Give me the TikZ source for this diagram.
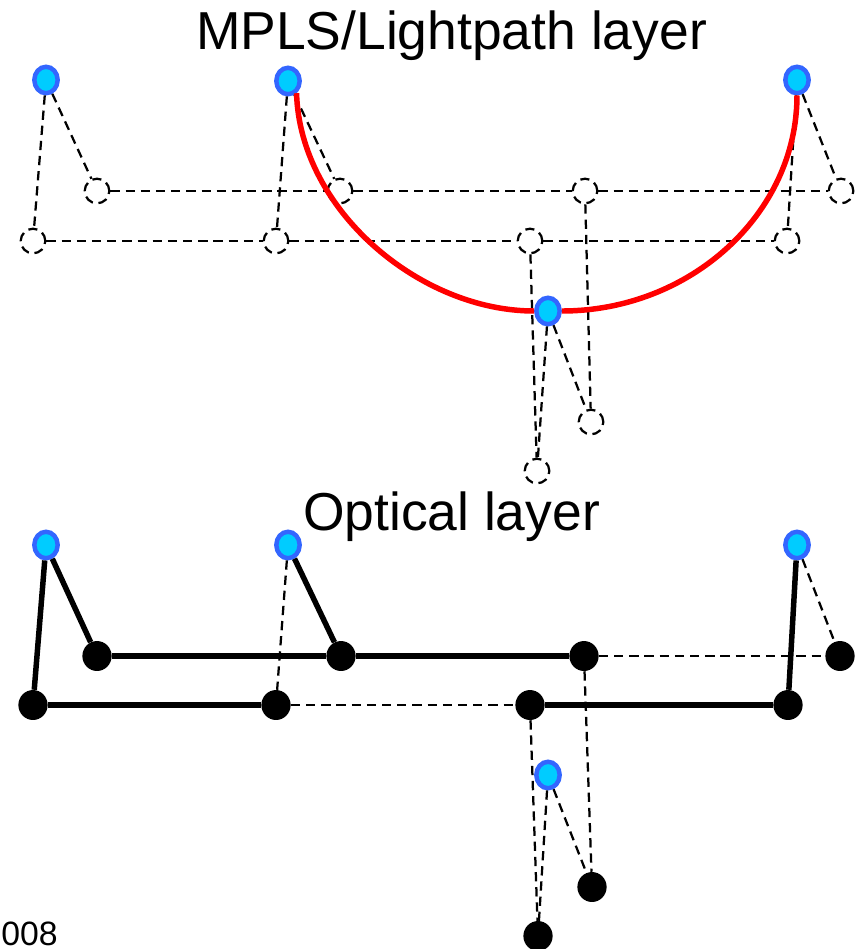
\documentclass[tikz,border=0pt]{standalone}
\usepackage{fontspec}
\setmainfont{Liberation Sans}
\usepackage{tikz}
\usetikzlibrary{positioning}
\usetikzlibrary{shapes}
\usepackage{xcolor}
\definecolor{nodecyan}{HTML}{00CCFF}
\definecolor{nodeblue}{HTML}{3366FF}

\begin{document}
\begin{tikzpicture}[x=0.025cm,y=-0.025cm,
  router/.style={ellipse,draw=nodeblue,fill=nodecyan,line width=3.2pt,inner sep=0pt,minimum width=16.6pt,minimum height=18.8pt},
  vport/.style={ellipse,draw,line width=1.6pt,dash pattern=on 6.5pt off 4pt,inner sep=0pt,minimum width=17.5pt,minimum height=17.5pt},
  oport/.style={ellipse,fill=black,inner sep=0pt,minimum width=20.8pt,minimum height=21.3pt},
  vlink/.style={line width=1.6pt,dash pattern=on 6.6pt off 4.2pt},
  olink/.style={line width=3.9pt},
  lpath/.style={red,line width=3.9pt},
  title/.style={anchor=base,inner sep=0pt,font=\fontsize{38}{42}\selectfont}]
  \useasboundingbox (0,0) rectangle (859,949);
  % titles of the two layers
  \node[title] (ttop) at (451.5,49) {MPLS/Lightpath layer};
  \node[title] (tbot) at (451.5,530) {Optical layer};
  \node[anchor=base west,inner sep=0pt,font=\fontsize{24}{26}\selectfont] (year) at (1,945) {008};
  % upper layer: routers and their virtual ports
  \node[router] (lr1) at (46,80) {}; \node[router] (lr2) at (288,81) {};
  \node[router] (lr3) at (797,80) {}; \node[router] (lr4) at (548,311) {};
  \node[vport] (vp1) at (97,191) {};  \node[vport] (vp2) at (340,191) {};
  \node[vport] (vp3) at (585,191) {}; \node[vport] (vp4) at (841,191) {};
  \node[vport] (vp5) at (33,241) {};  \node[vport] (vp6) at (276,241) {};
  \node[vport] (vp7) at (530,241) {}; \node[vport] (vp8) at (787,241) {};
  \node[vport] (vp9) at (591,422) {}; \node[vport] (vp10) at (537,471) {};
  \draw[vlink] (lr1) -- (vp1); \draw[vlink] (lr1) -- (vp5);
  \draw[vlink] (lr2) -- (vp2); \draw[vlink] (lr2) -- (vp6);
  \draw[vlink] (lr3) -- (vp4); \draw[vlink] (lr3) -- (vp8);
  \draw[vlink] (lr4) -- (vp9); \draw[vlink] (lr4) -- (vp10);
  \draw[vlink] (vp1) -- (vp2) -- (vp3) -- (vp4);
  \draw[vlink] (vp5) -- (vp6) -- (vp7) -- (vp8);
  \draw[vlink] (vp3) -- (vp9); \draw[vlink] (vp7) -- (vp10);
  % the lightpath between lr2 and lr3 via lr4
  \draw[lpath] (lr2.-55) .. controls (300,210) and (420,311) .. (lr4.west);
  \draw[lpath] (lr4.east) .. controls (690,311) and (797,214) .. (lr3.south);
  % lower layer: optical nodes
  \node[router] (or1) at (46,545) {}; \node[router] (or2) at (288,545) {};
  \node[router] (or3) at (797,545) {}; \node[router] (or4) at (548,775) {};
  \node[oport] (ox1) at (97,656) {};  \node[oport] (ox2) at (341,656) {};
  \node[oport] (ox3) at (584,656) {}; \node[oport] (ox4) at (840,656) {};
  \node[oport] (ox5) at (33,705) {};  \node[oport] (ox6) at (276,705) {};
  \node[oport] (ox7) at (530,705) {}; \node[oport] (ox8) at (788,705) {};
  \node[oport] (ox9) at (592,887) {}; \node[oport] (ox10) at (538,936) {};
  % fibres in use (solid) and unused ones (dashed)
  \draw[olink] (or1) -- (ox1); \draw[olink] (or1) -- (ox5);
  \draw[olink] (or2) -- (ox2); \draw[olink] (or3) -- (ox8);
  \draw[olink] (ox1) -- (ox2) -- (ox3);
  \draw[olink] (ox5) -- (ox6); \draw[olink] (ox7) -- (ox8);
  \draw[vlink] (or2) -- (ox6); \draw[vlink] (or3) -- (ox4);
  \draw[vlink] (ox3) -- (ox4); \draw[vlink] (ox6) -- (ox7);
  \draw[vlink] (ox3) -- (ox9); \draw[vlink] (ox7) -- (ox10);
  \draw[vlink] (or4) -- (ox9); \draw[vlink] (or4) -- (ox10);
\end{tikzpicture}
\end{document}
